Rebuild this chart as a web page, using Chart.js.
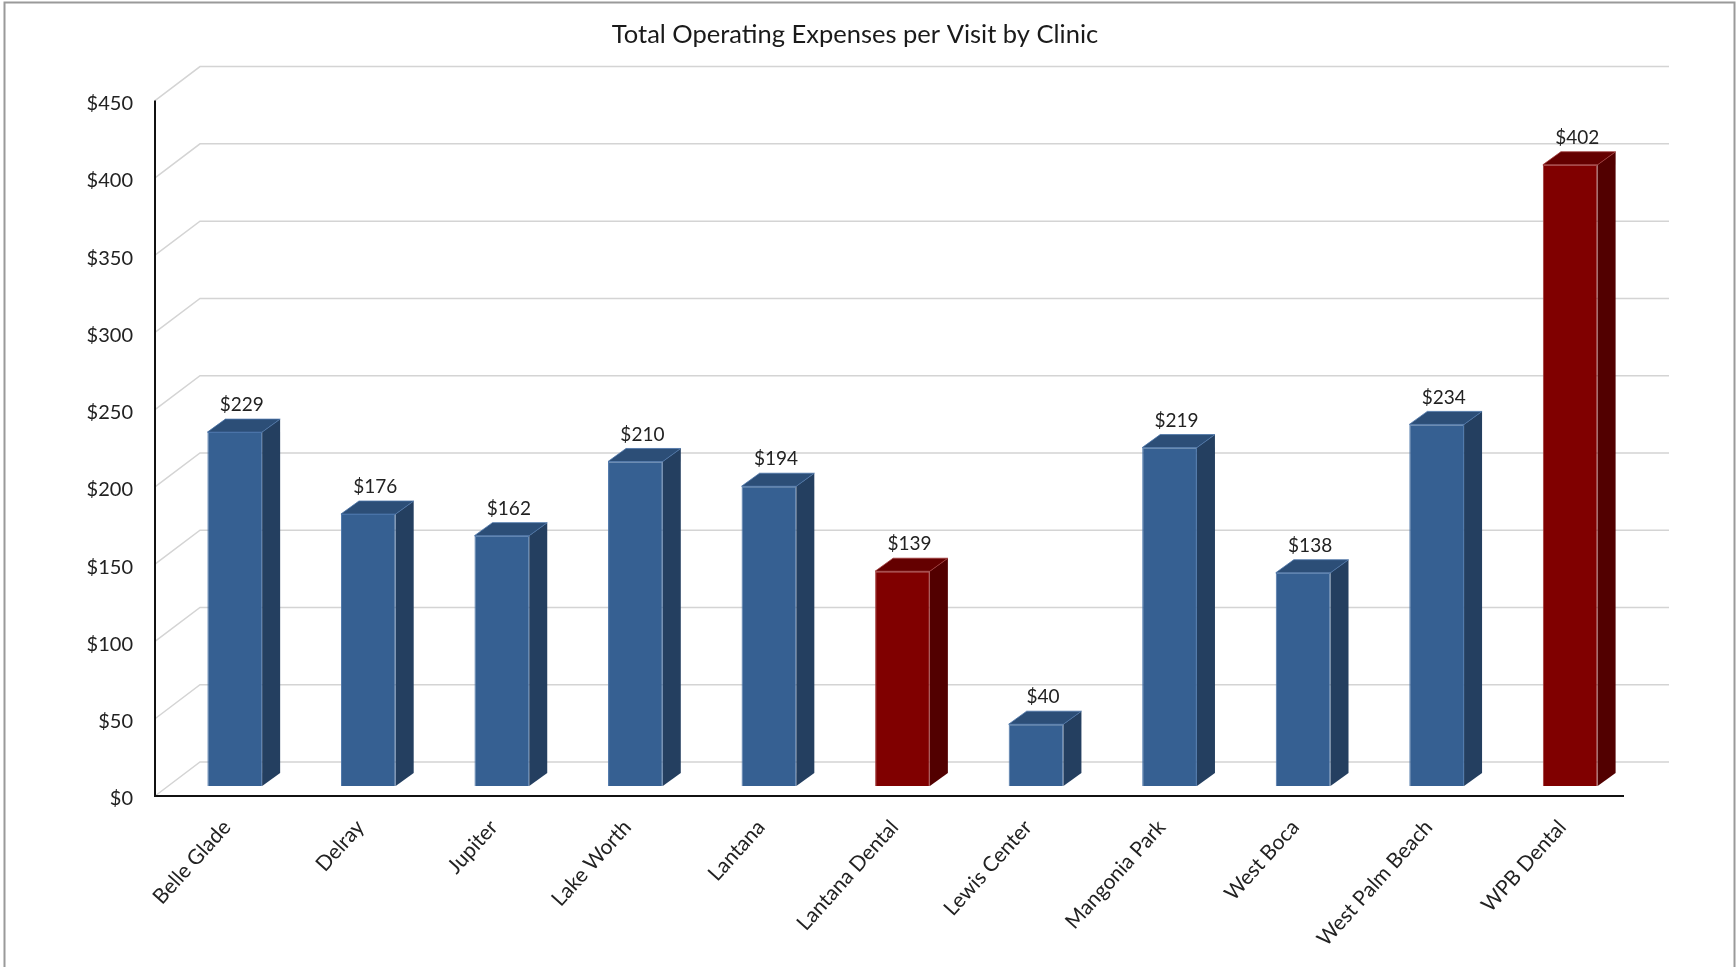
<!DOCTYPE html>
<html>
<head>
<meta charset="utf-8">
<title>Total Operating Expenses per Visit by Clinic</title>
<script src="https://cdn.jsdelivr.net/npm/chart.js@4/dist/chart.umd.min.js"></script>
<style>
  html, body { margin: 0; padding: 0; background: #fff; }
  #wrap { width: 1736px; height: 967px; position: relative; }
</style>
</head>
<body>
<div id="wrap"><canvas id="chart"></canvas></div>
<script>
// clinics and cost per visit (dollars)
const clinics = [
  "Belle Glade", "Delray", "Jupiter", "Lake Worth", "Lantana", "Lantana Dental",
  "Lewis Center", "Mangonia Park", "West Boca", "West Palm Beach", "WPB Dental"
];
const costPerVisit = [229, 176, 162, 210, 194, 139, 40, 219, 138, 234, 402];
const yTicks = [0, 50, 100, 150, 200, 250, 300, 350, 400, 450];

// colours for front / side / top of each column
const BLUE = { front: "#366092", side: "#243f60", top: "#2c4e77", edge: "#4a74a8" };
const RED = { front: "#800000", side: "#520000", top: "#640000", edge: "#a03a3a" };
const paletteFor = (label) => (label.includes("Dental") ? RED : BLUE);

// fake 3D offsets (px) relative to the plane the columns stand on
const FRONT = { dx: -13, dy: 10 };   // front edge of floor / axis
const BACK = { dx: 32, dy: -24 };    // back wall
const DEPTH = { dx: 18, dy: -13 };   // depth of one column

const money = (v) => "$" + v;

Chart.defaults.font.family = 'Lato, "Open Sans", sans-serif';
Chart.defaults.color = "#222";

// walls, grid, axis lines and the side/top faces of the columns
const bar3d = {
  id: "bar3d",
  beforeDatasetsDraw(chart) {
    const { ctx, chartArea: a, scales: { y } } = chart;
    ctx.save();

    // outer frame
    ctx.strokeStyle = "#9a9a9a";
    ctx.lineWidth = 2;
    ctx.strokeRect(4.5, 2.5, chart.width - 6, chart.height + 10);

    // back wall grid and side wall lines
    ctx.strokeStyle = "#d4d4d4";
    ctx.lineWidth = 1.5;
    yTicks.forEach((v) => {
      const py = y.getPixelForValue(v);
      ctx.beginPath();
      ctx.moveTo(a.left + FRONT.dx, py + FRONT.dy);
      ctx.lineTo(a.left + BACK.dx, py + BACK.dy);
      ctx.lineTo(a.right + BACK.dx, py + BACK.dy);
      ctx.stroke();
    });

    // front axis lines
    const y0 = y.getPixelForValue(0) + FRONT.dy;
    const yTop = y.getPixelForValue(yTicks[yTicks.length - 1]) + FRONT.dy;
    ctx.strokeStyle = "#111";
    ctx.lineWidth = 2;
    ctx.beginPath();
    ctx.moveTo(a.left + FRONT.dx, yTop);
    ctx.lineTo(a.left + FRONT.dx, y0);
    ctx.lineTo(a.right + FRONT.dx, y0);
    ctx.stroke();
    ctx.restore();
  },
  afterDatasetsDraw(chart) {
    const { ctx } = chart;
    const meta = chart.getDatasetMeta(0);
    ctx.save();
    meta.data.forEach((bar, i) => {
      const { x, y, base, width } = bar.getProps(["x", "y", "base", "width"], true);
      const pal = paletteFor(clinics[i]);
      const l = x - width / 2, r = x + width / 2;

      // side face
      ctx.fillStyle = pal.side;
      ctx.beginPath();
      ctx.moveTo(r, y);
      ctx.lineTo(r + DEPTH.dx, y + DEPTH.dy);
      ctx.lineTo(r + DEPTH.dx, base + DEPTH.dy);
      ctx.lineTo(r, base);
      ctx.closePath();
      ctx.fill();

      // top face
      ctx.fillStyle = pal.top;
      ctx.beginPath();
      ctx.moveTo(l, y);
      ctx.lineTo(l + DEPTH.dx, y + DEPTH.dy);
      ctx.lineTo(r + DEPTH.dx, y + DEPTH.dy);
      ctx.lineTo(r, y);
      ctx.closePath();
      ctx.fill();

      ctx.strokeStyle = pal.edge;
      ctx.lineWidth = 0.8;
      ctx.stroke();

      // value label
      ctx.fillStyle = "#222";
      ctx.font = '19px Lato, "Open Sans", sans-serif';
      ctx.textAlign = "center";
      ctx.textBaseline = "middle";
      ctx.fillText(money(costPerVisit[i]), x + 7, y - 27);
    });
    ctx.restore();
  }
};

new Chart(document.getElementById("chart"), {
  type: "bar",
  data: {
    labels: clinics,
    datasets: [{
      label: "Cost per Visit",
      data: costPerVisit,
      backgroundColor: (c) => paletteFor(clinics[c.dataIndex] || "").front,
      borderColor: (c) => paletteFor(clinics[c.dataIndex] || "").edge,
      borderWidth: 1,
      barPercentage: 0.41,
      categoryPercentage: 1.0
    }]
  },
  options: {
    responsive: true,
    maintainAspectRatio: false,
    animation: false,
    layout: { padding: { left: 73, right: 99, top: 0, bottom: 0 } },
    plugins: {
      legend: { display: false },
      tooltip: { enabled: false },
      title: {
        display: true,
        text: "Total Operating Expenses per Visit by Clinic",
        color: "#1a1a1a",
        font: { size: 25.5, weight: "normal" },
        padding: { top: 19, bottom: 41 }
      }
    },
    scales: {
      x: {
        grid: { display: false },
        border: { display: false },
        ticks: {
          autoSkip: false,
          minRotation: 48,
          maxRotation: 48,
          padding: 21,
          labelOffset: -8,
          font: { size: 21 }
        },
        afterFit: (s) => { s.height = 181; }
      },
      y: {
        min: 0,
        max: 450,
        grid: { display: false },
        border: { display: false },
        ticks: {
          stepSize: 50,
          padding: 27,
          labelOffset: 13,
          font: { size: 20 },
          callback: (v) => money(v)
        },
        afterFit: (s) => { s.width = 95; }
      }
    }
  },
  plugins: [bar3d]
});
</script>
</body>
</html>
